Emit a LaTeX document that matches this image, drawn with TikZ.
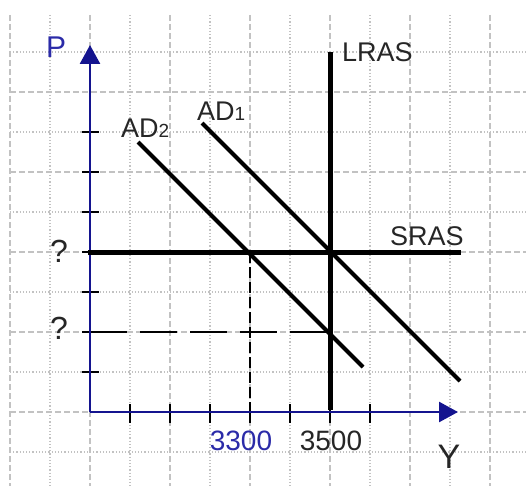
\documentclass[tikz,border=0pt]{standalone}
\usepackage{fontspec}
\setmainfont{Liberation Sans}
\usetikzlibrary{arrows.meta}
\definecolor{axisblue}{HTML}{14148F}
\definecolor{lblblue}{HTML}{2B2BA8}
\definecolor{gridgray}{HTML}{C2C2C2}
\definecolor{txtgray}{HTML}{262626}
\tikzset{
  gridmajor/.style={gridgray, line width=1.1pt, dash pattern=on 6pt off 3pt},
  gridminor/.style={gridgray, line width=1.1pt, dash pattern=on 1.2pt off 2pt},
  axisline/.style={axisblue, line width=2.6pt, -{Triangle[length=19pt,width=20pt]}},
  tickline/.style={black, line width=1.5pt},
  curve/.style={black, line width=4.2pt},
  vcurve/.style={black, line width=5pt},
  guide/.style={black, line width=1.2pt},
  lbl/.style={inner sep=0pt, text=txtgray, font=\fontsize{27}{27}\selectfont}
}
\begin{document}
\begin{tikzpicture}[x=1pt,y=-1pt]
\useasboundingbox (0,0) rectangle (526,486);
\fill[white] (0,0) rectangle (526,486);
% grid
\foreach \k in {0,...,6} {\draw[gridmajor] (10+80*\k,15) -- (10+80*\k,486);}
\foreach \k in {0,...,5} {\draw[gridminor] (50+80*\k,15) -- (50+80*\k,486);}
\foreach \k in {0,...,4} {\draw[gridmajor] (10,412-80*\k) -- (526,412-80*\k);}
\foreach \k in {0,...,5} {\draw[gridminor] (10,452-80*\k) -- (526,452-80*\k);}
% coordinates
\coordinate (O) at (90,412);
\coordinate (ytop) at (90,45);
\coordinate (xend) at (458,412);
\coordinate (lrasB) at (330,410);
\coordinate (lrasT) at (330,52);
\coordinate (srasL) at (88,252);
\coordinate (srasR) at (461,252);
\coordinate (ad1T) at (202,123);
\coordinate (ad1B) at (460,381);
\coordinate (ad2T) at (138,142);
\coordinate (ad2B) at (363,367);
\coordinate (q2) at (90,332);
\coordinate (e2) at (330,332);
\coordinate (e1) at (250,252);
\coordinate (x1) at (250,412);
% guide dashed lines
\draw[guide, dash pattern=on 37pt off 13pt] (q2) -- (e2);
\draw[guide, dash pattern=on 11pt off 4pt] (e1) -- (x1);
% ticks
\foreach \k in {1,...,7} {
  \draw[tickline] (82,412-40*\k) -- (99,412-40*\k);
  \draw[tickline] (90+40*\k,404) -- (90+40*\k,423);
}
% axes
\draw[axisline] (O) -- (ytop);
\draw[axisline] (O) -- (xend);
% curves
\draw[vcurve] (lrasB) -- (lrasT);
\draw[vcurve] (srasL) -- (srasR);
\draw[curve] (ad1T) -- (ad1B);
\draw[curve] (ad2T) -- (ad2B);
% labels
\node[lbl, text=lblblue, font=\fontsize{30}{30}\selectfont, anchor=base west] (P) at (46,58) {P};
\node[lbl, anchor=base west] (lras) at (342,62) {LRAS};
\node[lbl, anchor=base west] (sras) at (390,245) {SRAS};
\node[lbl, anchor=base west] (ad1) at (197,121) {AD{\fontsize{19}{19}\selectfont 1}};
\node[lbl, anchor=base west] (ad2) at (121,138) {AD{\fontsize{19}{19}\selectfont 2}};
\node[lbl, anchor=base, font=\fontsize{32}{32}\selectfont] (qa) at (59,262) {?};
\node[lbl, anchor=base, font=\fontsize{32}{32}\selectfont] (qb) at (59,339) {?};
\node[lbl, anchor=base, text=lblblue, font=\fontsize{28}{28}\selectfont] (v1) at (241,450) {3300};
\node[lbl, anchor=base, font=\fontsize{28}{28}\selectfont] (v2) at (331,450) {3500};
\node[lbl, anchor=base, font=\fontsize{34}{34}\selectfont] (Y) at (449,468) {Y};
\end{tikzpicture}
\end{document}
